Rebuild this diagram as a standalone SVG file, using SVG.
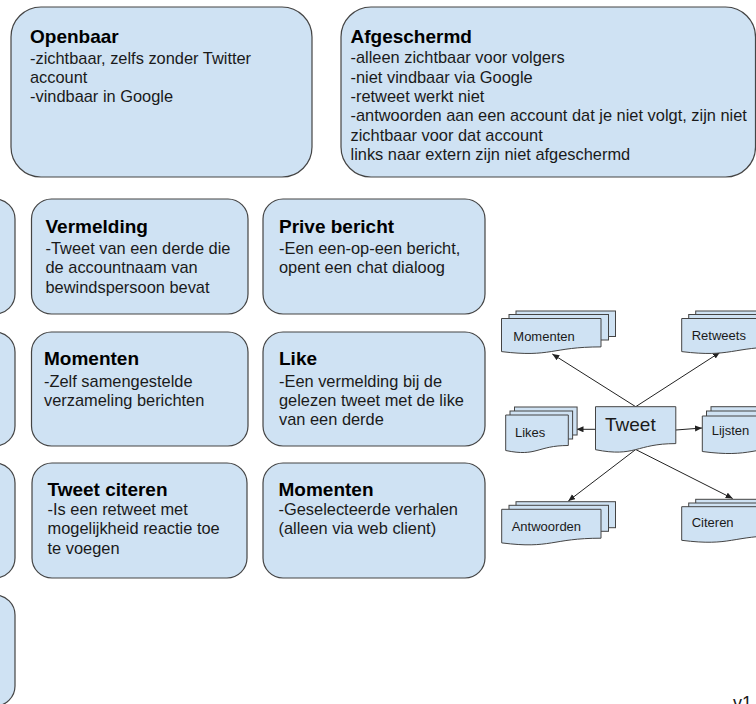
<svg xmlns="http://www.w3.org/2000/svg" width="756" height="704" viewBox="0 0 756 704">
<style>
.box{fill:#cfe2f3;stroke:#444;stroke-width:1.2}
.doc{fill:#cfe2f3;stroke:#444;stroke-width:1}
.t{font-family:"Liberation Sans",Arial,sans-serif;font-size:19px;font-weight:bold;fill:#000}
.b{font-family:"Liberation Sans",Arial,sans-serif;font-size:16.4px;fill:#1a1a1a}
.d{font-family:"Liberation Sans",Arial,sans-serif;font-size:13px;fill:#1a1a1a}
.c{stroke:#222;stroke-width:1;fill:none;marker-end:url(#ah)}
</style>
<defs>
<marker id="ah" markerUnits="userSpaceOnUse" markerWidth="8" markerHeight="8" refX="7" refY="3" orient="auto">
<path d="M0,0 L7,3 L0,6 Z" fill="#222"/>
</marker>
</defs>
<rect width="756" height="704" fill="#fff"/>

<g id="openbaar">
<rect class="box" x="11" y="7" width="301" height="170" rx="30"/>
<text class="t" x="30" y="42.5">Openbaar</text>
<text class="b" x="30" y="63.5">-zichtbaar, zelfs zonder Twitter</text>
<text class="b" x="30" y="82.8">account</text>
<text class="b" x="30" y="102.1">-vindbaar in Google</text>
</g>

<g id="afgeschermd">
<rect class="box" x="341" y="7" width="414.5" height="170" rx="30"/>
<text class="t" x="350.5" y="42.5">Afgeschermd</text>
<text class="b" x="350.5" y="63.3">-alleen zichtbaar voor volgers</text>
<text class="b" x="350.5" y="82.6">-niet vindbaar via Google</text>
<text class="b" x="350.5" y="101.9">-retweet werkt niet</text>
<text class="b" x="350.5" y="121.2">-antwoorden aan een account dat je niet volgt, zijn niet</text>
<text class="b" x="350.5" y="140.5">zichtbaar voor dat account</text>
<text class="b" x="350.5" y="159.8">links naar extern zijn niet afgeschermd</text>
</g>

<g id="left1"><rect class="box" x="-200" y="199" width="215" height="115" rx="20"/></g>
<g id="left2"><rect class="box" x="-200" y="332" width="215" height="114" rx="20"/></g>
<g id="left3"><rect class="box" x="-200" y="463" width="215" height="115" rx="20"/></g>
<g id="left4"><rect class="box" x="-200" y="595" width="215" height="111" rx="20"/></g>

<g id="vermelding">
<rect class="box" x="31.5" y="199" width="216.5" height="115" rx="20"/>
<text class="t" x="45.5" y="233">Vermelding</text>
<text class="b" x="45.5" y="254">-Tweet van een derde die</text>
<text class="b" x="45.5" y="273.4">de accountnaam van</text>
<text class="b" x="45.5" y="292.8">bewindspersoon bevat</text>
</g>

<g id="prive">
<rect class="box" x="263" y="199" width="222" height="115" rx="20"/>
<text class="t" x="279" y="233">Prive bericht</text>
<text class="b" x="279" y="254">-Een een-op-een bericht,</text>
<text class="b" x="279" y="273.4">opent een chat dialoog</text>
</g>

<g id="momenten1">
<rect class="box" x="31.5" y="332" width="216.5" height="114" rx="20"/>
<text class="t" x="44" y="365">Momenten</text>
<text class="b" x="44" y="386.5">-Zelf samengestelde</text>
<text class="b" x="44" y="405.9">verzameling berichten</text>
</g>

<g id="like">
<rect class="box" x="263" y="332" width="222" height="114" rx="20"/>
<text class="t" x="279" y="365">Like</text>
<text class="b" x="279" y="386.5">-Een vermelding bij de</text>
<text class="b" x="279" y="405.9">gelezen tweet met de like</text>
<text class="b" x="279" y="425.3">van een derde</text>
</g>

<g id="citeren">
<rect class="box" x="32" y="463" width="215" height="115" rx="20"/>
<text class="t" x="47.5" y="495.7">Tweet citeren</text>
<text class="b" x="47.5" y="515">-Is een retweet met</text>
<text class="b" x="47.5" y="534.4">mogelijkheid reactie toe</text>
<text class="b" x="47.5" y="553.8">te voegen</text>
</g>

<g id="momenten2">
<rect class="box" x="263" y="463" width="222" height="115" rx="20"/>
<text class="t" x="278.5" y="495.7">Momenten</text>
<text class="b" x="278.5" y="515">-Geselecteerde verhalen</text>
<text class="b" x="278.5" y="534.4">(alleen via web client)</text>
</g>

<g id="connectors">
<line class="c" x1="635.7" y1="406.7" x2="552.3" y2="354"/>
<line class="c" x1="635.7" y1="406.7" x2="720" y2="352.3"/>
<line class="c" x1="595.5" y1="429.3" x2="576.5" y2="429.3"/>
<line class="c" x1="675.8" y1="430" x2="702" y2="428"/>
<line class="c" x1="635.7" y1="449.5" x2="568.3" y2="501"/>
<line class="c" x1="635.7" y1="449.5" x2="732.7" y2="498.5"/>
</g>

<g id="tweet">
<path class="doc" d="M595.5,406.7 H675.8 V443.6 C635.6,443.6 635.6,457.6 595.5,449.7 Z"/>
<text x="605" y="431" style="font-family:'Liberation Sans',Arial,sans-serif;font-size:19px;fill:#1a1a1a">Tweet</text>
</g>

<g id="doc-momenten">
<rect class="doc" x="516" y="311" width="99.5" height="25.5"/>
<rect class="doc" x="509" y="314.5" width="99.5" height="25.5"/>
<path class="doc" d="M501.5,318.5 H601 V346.9 C551.3,346.9 551.3,357.7 501.5,351.6 Z"/>
<text class="d" x="513.3" y="340.7">Momenten</text>
</g>

<g id="doc-retweets">
<rect class="doc" x="695.7" y="311" width="99.5" height="25.5"/>
<rect class="doc" x="688.7" y="314.5" width="99.5" height="25.5"/>
<path class="doc" d="M681.7,318.5 H781.2 V346.9 C731.5,346.9 731.5,357.7 681.7,351.6 Z"/>
<text class="d" x="691.7" y="340">Retweets</text>
</g>

<g id="doc-likes">
<rect class="doc" x="514.5" y="407" width="62.6" height="28"/>
<rect class="doc" x="510" y="411" width="62.6" height="28"/>
<path class="doc" d="M505.7,415 H568.3 V445.5 C537,445.5 537,457.1 505.7,450.5 Z"/>
<text class="d" x="515" y="436.7">Likes</text>
</g>

<g id="doc-lijsten">
<rect class="doc" x="711" y="406.7" width="99.5" height="28"/>
<rect class="doc" x="706.5" y="411" width="99.5" height="28"/>
<path class="doc" d="M702.3,416 H801.8 V446.5 C752,446.5 752,458.1 702.3,451.5 Z"/>
<text class="d" x="711.7" y="435">Lijsten</text>
</g>

<g id="doc-antwoorden">
<rect class="doc" x="516" y="501.7" width="99.5" height="26"/>
<rect class="doc" x="509" y="505.3" width="99.5" height="26"/>
<path class="doc" d="M501.7,509.3 H601 V538.2 C551.3,538.2 551.3,549.2 501.7,542.9 Z"/>
<text class="d" x="511.7" y="530.7">Antwoorden</text>
</g>

<g id="doc-citeren">
<rect class="doc" x="695.7" y="499.3" width="99.5" height="26"/>
<rect class="doc" x="688.7" y="503" width="99.5" height="26"/>
<path class="doc" d="M681.7,506.7 H781.2 V535.6 C731.5,535.6 731.5,546.6 681.7,540.3 Z"/>
<text class="d" x="691.7" y="527.3">Citeren</text>
</g>

<text x="733" y="709" style="font-family:'Liberation Sans',Arial,sans-serif;font-size:18px;fill:#1a1a1a">v1</text>
</svg>
